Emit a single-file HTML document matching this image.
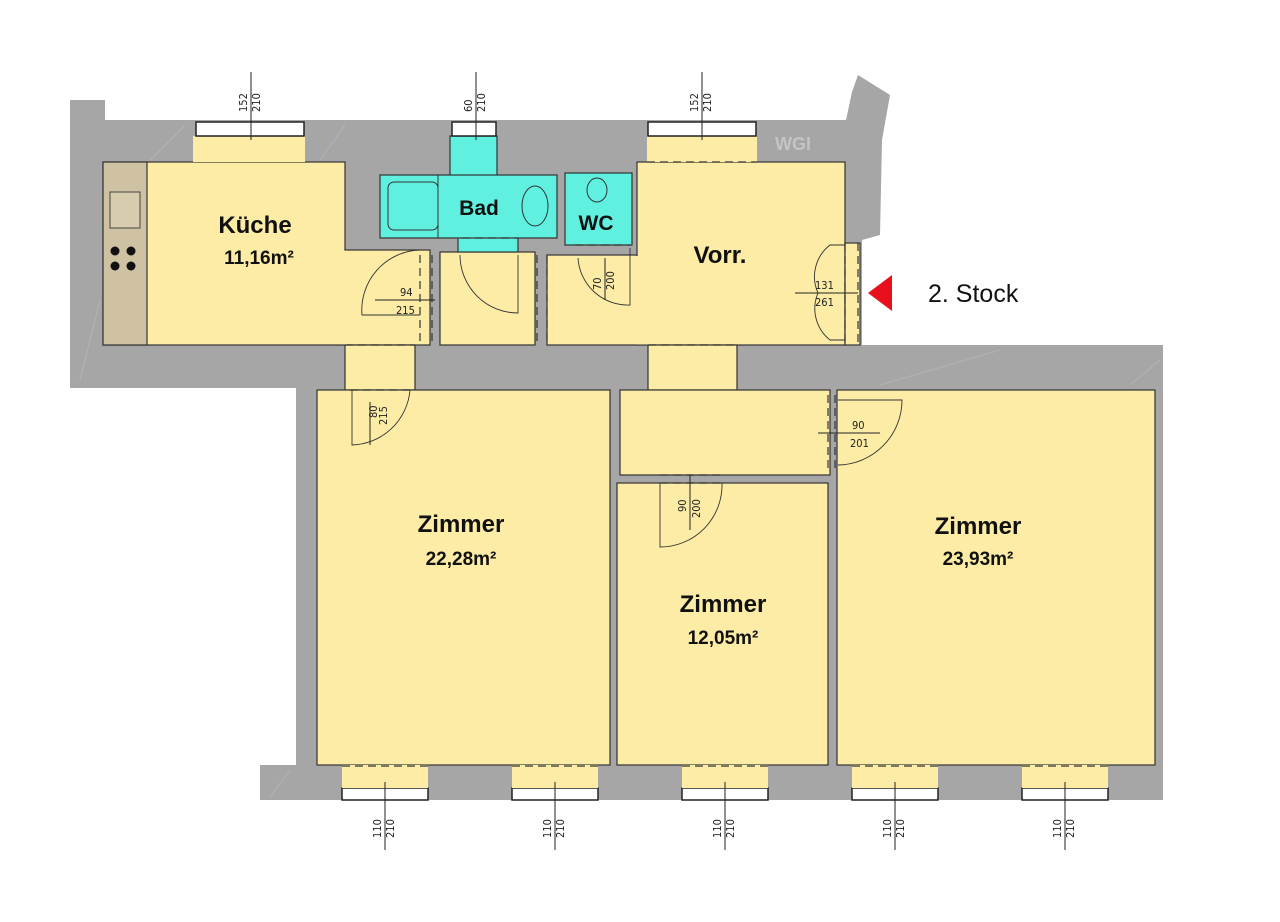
<!DOCTYPE html>
<html><head><meta charset="utf-8">
<style>
html,body{margin:0;padding:0;background:#fff;}
svg{display:block;}
.d{font-family:"DejaVu Sans Condensed","Liberation Sans",sans-serif;font-size:11px;fill:#222;}
.r{font-family:"Liberation Sans",sans-serif;font-weight:bold;fill:#111;}
</style></head><body>
<svg width="1280" height="922" viewBox="0 0 1280 922" xmlns="http://www.w3.org/2000/svg">
<rect width="1280" height="922" fill="#fff"/>
<path d="M70,100 L105,100 L105,120 L846,120 L852,92 L858,75 L890,95 L882,140 L880,235 L862,240 L862,345 L1163,345 L1163,800 L260,800 L260,765 L296,765 L296,388 L70,388 Z" fill="#a6a6a6"/>
<g stroke="#bcbcbc" stroke-width="1" opacity="0.6">
<line x1="80" y1="380" x2="100" y2="300"/><line x1="150" y1="160" x2="185" y2="125"/><line x1="320" y1="160" x2="345" y2="125"/>
<line x1="270" y1="797" x2="290" y2="770"/><line x1="1130" y1="385" x2="1160" y2="360"/><line x1="880" y1="385" x2="1000" y2="350"/>
</g>
<text x="775" y="150" font-family="Liberation Sans,sans-serif" font-weight="bold" font-size="18" fill="#c4c4c4">WGI</text>
<g fill="#fdeca6" stroke="#333" stroke-width="1.2">
<rect x="103" y="162" width="242" height="183"/>
<rect x="345" y="250" width="85" height="95"/>
<rect x="440" y="252" width="95" height="93"/>
<rect x="547" y="255" width="92" height="90"/>
<rect x="637" y="162" width="208" height="183"/>
<rect x="845" y="243" width="15" height="102"/>
<rect x="648" y="345" width="89" height="45"/>
<rect x="345" y="345" width="70" height="45"/>
<rect x="317" y="390" width="293" height="375"/>
<rect x="620" y="390" width="210" height="85"/>
<rect x="617" y="483" width="211" height="282"/>
<rect x="837" y="390" width="318" height="375"/>
</g>
<rect x="635" y="256" width="14" height="88.4" fill="#fdeca6"/>
<rect x="343" y="250.6" width="4" height="93.8" fill="#fdeca6"/>
<rect x="103" y="162" width="44" height="183" fill="#cfc2a2" stroke="#333" stroke-width="1.2"/>
<rect x="110" y="192" width="30" height="36" fill="#d8ccae" stroke="#444" stroke-width="1"/>
<g fill="#111"><circle cx="115" cy="251" r="4.5"/><circle cx="131" cy="251" r="4.5"/><circle cx="115" cy="266" r="4.5"/><circle cx="131" cy="266" r="4.5"/></g>
<g fill="#fdeca6"><rect x="193" y="136" width="112" height="26"/><rect x="647" y="136" width="110" height="26"/></g>
<g fill="#5ff0e0" stroke="#333" stroke-width="1.2">
<rect x="450" y="136" width="47" height="40"/>
<rect x="458" y="236" width="60" height="16"/>
<rect x="380" y="175" width="177" height="63"/>
<rect x="565" y="173" width="67" height="72"/>
</g>
<rect x="388" y="182" width="50" height="48" rx="6" fill="none" stroke="#333"/>
<line x1="438" y1="175" x2="438" y2="238" stroke="#333"/>
<ellipse cx="535" cy="206" rx="13" ry="20" fill="none" stroke="#333"/>
<ellipse cx="597" cy="190" rx="10" ry="12" fill="none" stroke="#333"/>
<g fill="#fff" stroke="#222" stroke-width="1.5">
<rect x="196" y="122" width="108" height="14"/><rect x="452" y="122" width="44" height="14"/><rect x="648" y="122" width="108" height="14"/>
<rect x="342" y="788" width="86" height="12"/><rect x="512" y="788" width="86" height="12"/><rect x="682" y="788" width="86" height="12"/><rect x="852" y="788" width="86" height="12"/><rect x="1022" y="788" width="86" height="12"/>
</g>
<g fill="#fdeca6"><rect x="342" y="765" width="86" height="23"/><rect x="512" y="765" width="86" height="23"/><rect x="682" y="765" width="86" height="23"/><rect x="852" y="765" width="86" height="23"/><rect x="1022" y="765" width="86" height="23"/></g>
<g stroke="#333" stroke-width="1.2" stroke-dasharray="8,5" fill="none">
<line x1="342" y1="766" x2="428" y2="766"/><line x1="512" y1="766" x2="598" y2="766"/><line x1="682" y1="766" x2="768" y2="766"/><line x1="852" y1="766" x2="938" y2="766"/><line x1="1022" y1="766" x2="1108" y2="766"/>
<line x1="647" y1="162" x2="757" y2="162"/><line x1="648" y1="345" x2="737" y2="345"/><line x1="345" y1="345" x2="415" y2="345"/>
<line x1="420" y1="255" x2="420" y2="345"/><line x1="432" y1="255" x2="432" y2="345"/>
<line x1="537" y1="255" x2="537" y2="345"/><line x1="547" y1="255" x2="547" y2="345"/>
<line x1="462" y1="238" x2="518" y2="238"/><line x1="575" y1="245" x2="630" y2="245"/>
<line x1="845" y1="243" x2="845" y2="345"/><line x1="858" y1="243" x2="858" y2="345"/>
<line x1="828" y1="395" x2="828" y2="470"/><line x1="835" y1="395" x2="835" y2="470"/>
<line x1="660" y1="475" x2="722" y2="475"/><line x1="660" y1="483" x2="722" y2="483"/>
<line x1="350" y1="390" x2="410" y2="390"/>
</g>
<g stroke="#333" stroke-width="0.9" fill="none">
<path d="M420,250 A60,60 0 0 0 362,315 L420,315"/>
<path d="M460,255 A58,58 0 0 0 518,313 L518,255"/>
<path d="M578,258 A50,50 0 0 0 630,305 L630,248"/>
<path d="M845,245 L830,245 A40,40 0 0 0 818,293"/>
<path d="M845,340 L830,340 A40,40 0 0 1 818,293"/>
<path d="M352,390 L352,445 A60,60 0 0 0 410,390"/>
<path d="M838,400 L902,400 A65,65 0 0 1 838,465"/>
<path d="M660,483 L660,547 A62,62 0 0 0 722,483"/>
</g>
<g stroke="#222" stroke-width="1">
<line x1="251" y1="72" x2="251" y2="140"/><line x1="476" y1="72" x2="476" y2="140"/><line x1="702" y1="72" x2="702" y2="140"/>
<line x1="385" y1="782" x2="385" y2="850"/><line x1="555" y1="782" x2="555" y2="850"/><line x1="725" y1="782" x2="725" y2="850"/><line x1="895" y1="782" x2="895" y2="850"/><line x1="1065" y1="782" x2="1065" y2="850"/>
<line x1="375" y1="300" x2="435" y2="300"/><line x1="605" y1="258" x2="605" y2="300"/><line x1="795" y1="293" x2="858" y2="293"/>
<line x1="370" y1="402" x2="370" y2="445"/><line x1="818" y1="433" x2="880" y2="433"/><line x1="690" y1="475" x2="690" y2="530"/>
</g>
<g class="d">
<text transform="translate(247,112) rotate(-90)">152</text><text transform="translate(260,112) rotate(-90)">210</text>
<text transform="translate(472,112) rotate(-90)">60</text><text transform="translate(485,112) rotate(-90)">210</text>
<text transform="translate(698,112) rotate(-90)">152</text><text transform="translate(711,112) rotate(-90)">210</text>
<text transform="translate(381,838) rotate(-90)">110</text><text transform="translate(394,838) rotate(-90)">210</text>
<text transform="translate(551,838) rotate(-90)">110</text><text transform="translate(564,838) rotate(-90)">210</text>
<text transform="translate(721,838) rotate(-90)">110</text><text transform="translate(734,838) rotate(-90)">210</text>
<text transform="translate(891,838) rotate(-90)">110</text><text transform="translate(904,838) rotate(-90)">210</text>
<text transform="translate(1061,838) rotate(-90)">110</text><text transform="translate(1074,838) rotate(-90)">210</text>
<text x="400" y="296">94</text><text x="396" y="314">215</text>
<text transform="translate(601,290) rotate(-90)">70</text><text transform="translate(614,290) rotate(-90)">200</text>
<text x="815" y="289">131</text><text x="815" y="306">261</text>
<text transform="translate(377,418) rotate(-90)">80</text><text transform="translate(387,425) rotate(-90)">215</text>
<text x="852" y="429">90</text><text x="850" y="447">201</text>
<text transform="translate(686,512) rotate(-90)">90</text><text transform="translate(700,518) rotate(-90)">200</text>
</g>
<g class="r" text-anchor="middle">
<text x="255" y="233" font-size="24">Küche</text><text x="259" y="264" font-size="19">11,16m²</text>
<text x="479" y="215" font-size="21">Bad</text><text x="596" y="230" font-size="21">WC</text>
<text x="720" y="263" font-size="24">Vorr.</text>
<text x="461" y="532" font-size="24">Zimmer</text><text x="461" y="565" font-size="19">22,28m²</text>
<text x="723" y="612" font-size="24">Zimmer</text><text x="723" y="644" font-size="19">12,05m²</text>
<text x="978" y="534" font-size="24">Zimmer</text><text x="978" y="565" font-size="19">23,93m²</text>
</g>
<polygon points="868,293 892,275 892,311" fill="#e8101c"/>
<text x="928" y="302" font-family="Liberation Sans,sans-serif" font-size="25" fill="#111">2. Stock</text>
</svg>
</body></html>
